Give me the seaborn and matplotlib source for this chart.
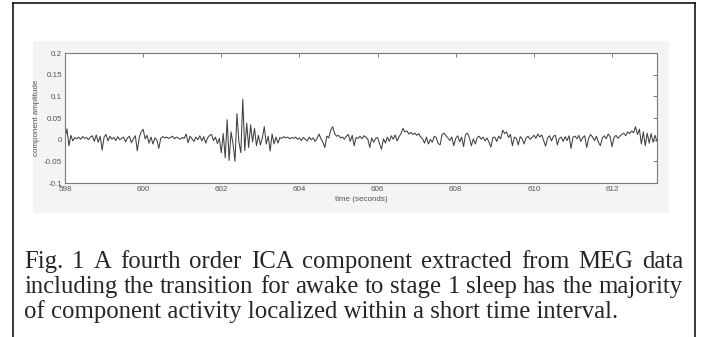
import numpy as np
import pandas as pd
import matplotlib
matplotlib.use("Agg")
import matplotlib.pyplot as plt
import seaborn as sns
from matplotlib.lines import Line2D
from matplotlib.patches import Rectangle

# ---------------- data ----------------
t_start = 598.0          # seconds
dt = 0.05                # sample spacing of the digitised trace (s)
# component amplitude, in thousandths, one row per second
amp_598 = [4, 25, -14, 10, -3, 5, 2, 6, 1, 7, 3, 5, 0, 6, 9, -4, 11, -6, 8, -24]
amp_599 = [6, 12, -3, 8, 1, 5, -2, 7, 0, 3, 6, -5, 4, 8, -7, 2, 9, -26, 5, 18]
amp_600 = [24, 2, 10, -8, 6, -10, 4, 0, -20, 3, 7, 4, 6, 3, 5, 8, 2, 6, 4, 1]
amp_601 = [5, 3, 13, -7, 8, 2, -4, 6, 0, 9, -3, 7, -8, 4, 10, 12, -2, 6, -9, 3]
amp_602 = [-30, 14, -42, 46, -48, 18, -10, -50, 60, -5, -30, 93, -25, 38, -18, 34, -5, 26, -14, 10]
amp_603 = [-12, 4, 30, -10, 8, -26, 13, -10, 6, -8, 5, 3, 7, 4, 6, 2, 5, 3, 6, 1]
amp_604 = [4, -2, 5, 1, -3, 6, 0, 4, -4, 3, 13, 2, -6, -18, 8, 4, 22, 30, 14, 8]
amp_605 = [10, 4, 6, 1, 8, 12, -4, 10, -14, 5, 3, 8, 2, 9, 6, 1, -18, 4, -6, 3]
amp_606 = [5, -10, -22, 2, -8, 6, -4, 9, 1, 11, -3, 7, 14, 26, 18, 20, 13, 17, 12, 15]
amp_607 = [10, 14, 6, 2, -8, 6, -10, 1, -6, 8, 5, -9, -12, 12, 15, 9, 4, -2, 6, -14]
amp_608 = [3, 9, -5, 6, -16, 12, 15, 4, -14, 2, -10, 5, 8, 1, 6, -3, 4, -6, -17, 5]
amp_609 = [6, -4, 8, 2, 22, 14, 18, 5, 12, -14, 6, 3, -12, 7, 2, -10, 4, 8, 1, 5]
amp_610 = [10, 3, 13, 6, 11, -2, -15, 4, 9, -3, 8, 10, -12, 3, 6, -4, 7, -2, 9, -20]
amp_611 = [6, 8, 2, 10, -4, 5, 9, -18, 3, 12, 6, -2, 8, -6, -14, 4, 9, 2, 13, 7]
amp_612 = [-16, 5, 10, 3, 8, 12, 15, 9, 18, 14, 20, 16, 30, 12, 24, -10, 18, -14, 15, -8]
amp_613 = [14, -6, 10, -4]

x_ticks = [598, 600, 602, 604, 606, 608, 610, 612]
y_ticks = [-0.1, -0.05, 0, 0.05, 0.1, 0.15, 0.2]
y_tick_labels = ["-0.1", "-0.05", "0", "0.05", "0.1", "0.15", "0.2"]
x_label = "time (seconds)"
y_label = "component amplitude"
caption = [
    "Fig. 1 A fourth order ICA component extracted from MEG data",
    "including the transition for awake to stage 1 sleep has the majority",
    "of component activity localized within a short time interval.",
]

amp = np.array(amp_598 + amp_599 + amp_600 + amp_601 + amp_602 + amp_603 + amp_604 +
               amp_605 + amp_606 + amp_607 + amp_608 + amp_609 + amp_610 + amp_611 +
               amp_612 + amp_613, dtype=float) / 1000.0
time = t_start + dt * np.arange(len(amp))
df = pd.DataFrame({"time": time, "amp": amp})

# ---------------- figure ----------------
sns.set_style("white")
W, H = 704, 337
fig = plt.figure(figsize=(W / 100, H / 100), dpi=100)
fig.patch.set_facecolor("white")

def fx(px):
    return px / W

def fy(py):
    return 1 - py / H

# outer frame (open at the bottom)
frame_kw = dict(transform=fig.transFigure, color="black", lw=1.1, solid_capstyle="projecting")
fig.add_artist(Line2D([fx(12.5), fx(12.5)], [fy(337), fy(2.5)], **frame_kw))
fig.add_artist(Line2D([fx(12.5), fx(694.5)], [fy(2.5), fy(2.5)], **frame_kw))
fig.add_artist(Line2D([fx(694.5), fx(694.5)], [fy(2.5), fy(337)], **frame_kw))

# light gray figure panel
fig.add_artist(Rectangle((fx(33), fy(213)), fx(669) - fx(33), fy(41) - fy(213),
                         transform=fig.transFigure, facecolor="#f4f4f4",
                         edgecolor="none", zorder=0))

ax = fig.add_axes([fx(65), fy(183), fx(657) - fx(65), fy(53) - fy(183)])
ax.set_facecolor("white")
sns.lineplot(data=df, x="time", y="amp", ax=ax, color="#404040", linewidth=0.75,
             estimator=None)
ax.set_xlim(598, 613.15)
ax.set_ylim(-0.1, 0.2)
ax.set_xticks(x_ticks)
ax.set_xticklabels([str(v) for v in x_ticks])
ax.set_yticks(y_ticks)
ax.set_yticklabels(y_tick_labels)

tick_font = dict(family="Liberation Sans", size=5.8, color="#555555")
for lab in ax.get_xticklabels() + ax.get_yticklabels():
    lab.set_fontfamily(tick_font["family"])
    lab.set_fontsize(tick_font["size"])
    lab.set_color(tick_font["color"])
ax.tick_params(direction="in", length=3.2, width=0.6, color="#666666",
               top=True, right=True, pad=2)
for s in ax.spines.values():
    s.set_color("#7a7a7a")
    s.set_linewidth(0.8)
ax.set_xlabel(x_label, fontfamily="Liberation Sans", fontsize=5.8, color="#555555", labelpad=2)
ax.set_ylabel(y_label, fontfamily="Liberation Sans", fontsize=5.8, color="#555555", labelpad=3)

# ---------------- justified caption ----------------
renderer = fig.canvas.get_renderer()
cap_family = "Liberation Serif"

def text_width(s, size):
    t = fig.text(0, 0, s, fontsize=size, family=cap_family)
    w = t.get_window_extent(renderer).width
    t.remove()
    return w

left_px, right_px = 24, 683
size = 10 * 660 / text_width(caption[1], 10)
baselines = [268, 293, 318]

for i, line in enumerate(caption):
    y = fy(baselines[i])
    if i < len(caption) - 1:
        words = line.split(" ")
        widths = [text_width(w, size) for w in words]
        gap = (right_px - left_px - sum(widths)) / (len(words) - 1)
        x = left_px
        for w, wd in zip(words, widths):
            fig.text(fx(x), y, w, fontsize=size, family=cap_family, va="baseline", ha="left")
            x += wd + gap
    else:
        fig.text(fx(left_px), y, line, fontsize=size, family=cap_family, va="baseline", ha="left")

fig.savefig("out.png", dpi=100)
